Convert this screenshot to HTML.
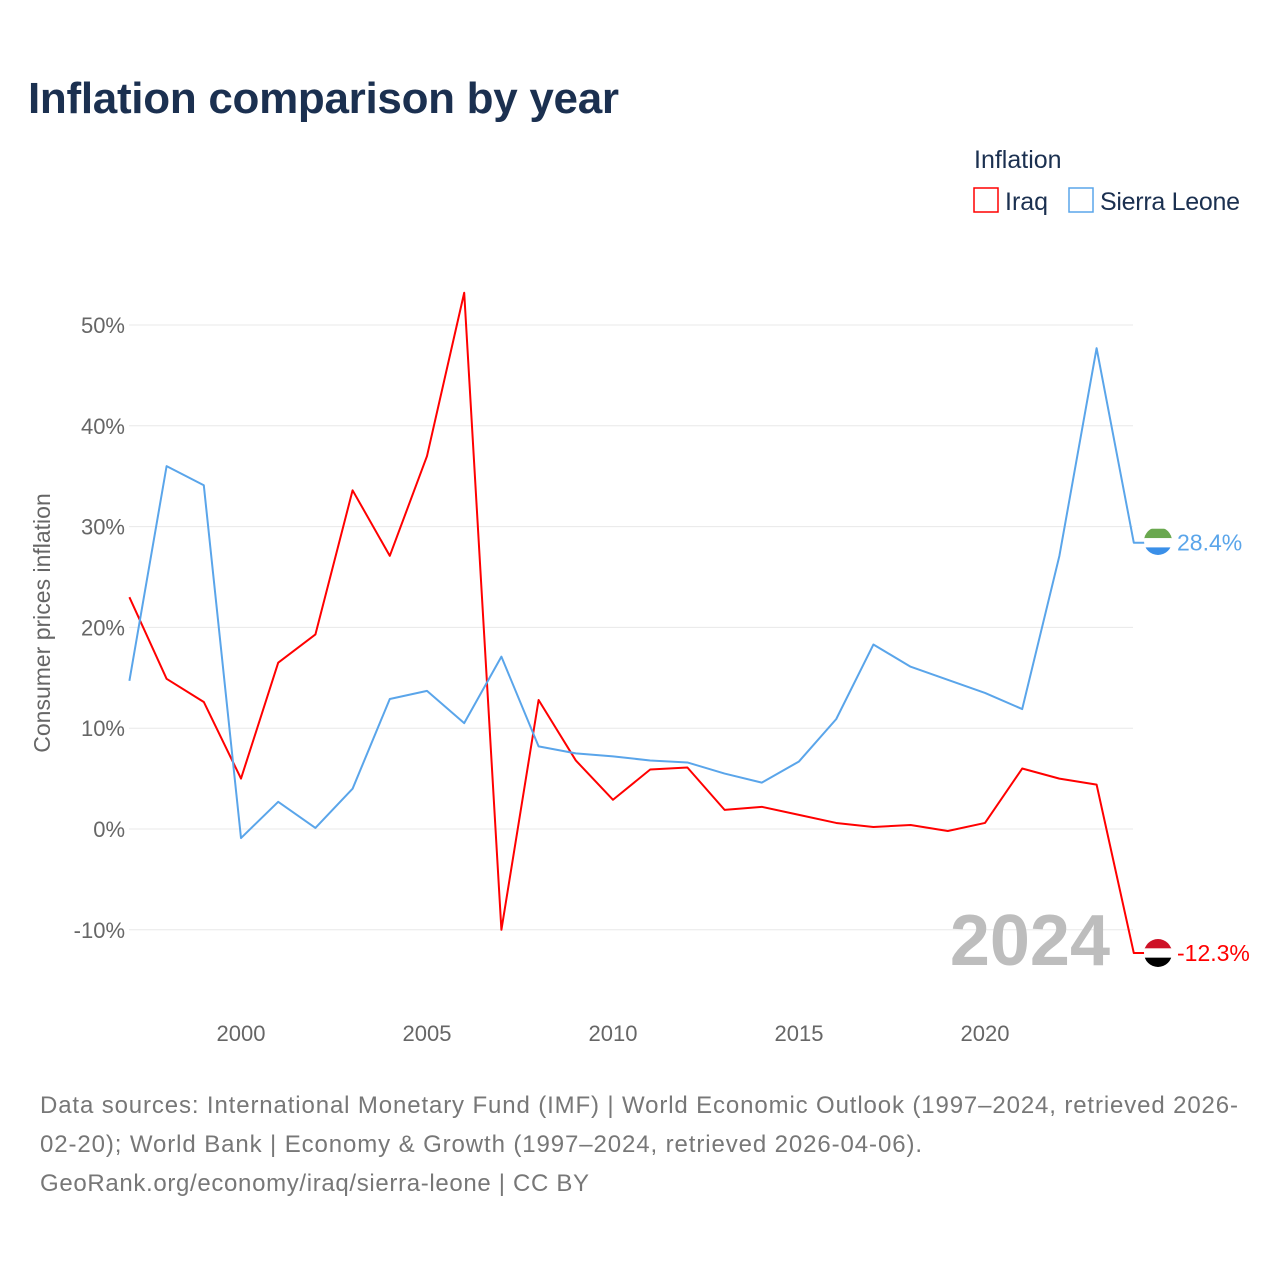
<!DOCTYPE html>
<html><head><meta charset="utf-8"><style>
body{margin:0;background:#fff;font-family:"Liberation Sans",sans-serif;}
#wrap{position:relative;width:1280px;height:1280px;overflow:hidden;}
</style></head><body>
<div id="wrap">
<svg id="chart" width="1280" height="1280">
<defs>
<clipPath id="cSL"><circle cx="1158" cy="541" r="14"/></clipPath>
<clipPath id="cIQ"><circle cx="1158" cy="953" r="14"/></clipPath>
</defs>
<text x="28" y="113" font-size="44" font-weight="bold" fill="#1b3050" textLength="591">Inflation comparison by year</text>
<text x="974" y="168" font-size="25" fill="#1b3050">Inflation</text>
<g><rect x="974" y="188" width="24" height="24" fill="none" stroke="#ff0000" stroke-width="1.5"/><text x="1005" y="210" font-size="25" fill="#1b3050">Iraq</text></g>
<g><rect x="1069" y="188" width="24" height="24" fill="none" stroke="#5aa5ea" stroke-width="1.5"/><text x="1100" y="210" font-size="25" fill="#1b3050" textLength="140">Sierra Leone</text></g>
<g id="grid"></g><g id="lines"></g>
<text x="1110" y="965" font-size="72" font-weight="bold" fill="#bdbdbd" text-anchor="end">2024</text>
<text transform="translate(50,623) rotate(-90)" font-size="23" fill="#666" text-anchor="middle">Consumer prices inflation</text>
<text x="40" y="1113" font-size="24" fill="#777" textLength="1198">Data sources: International Monetary Fund (IMF) | World Economic Outlook (1997–2024, retrieved 2026-</text>
<text x="40" y="1152" font-size="24" fill="#777" textLength="882">02-20); World Bank | Economy &amp; Growth (1997–2024, retrieved 2026-04-06).</text>
<text x="40" y="1191" font-size="24" fill="#777" textLength="549">GeoRank.org/economy/iraq/sierra-leone | CC BY</text>
</svg>
</div>
<script>
const years=[1997,1998,1999,2000,2001,2002,2003,2004,2005,2006,2007,2008,2009,2010,2011,2012,2013,2014,2015,2016,2017,2018,2019,2020,2021,2022,2023,2024];
const iraq=[23.0,14.9,12.6,5.0,16.5,19.3,33.6,27.1,37.0,53.2,-10.0,12.8,6.8,2.9,5.9,6.1,1.9,2.2,1.4,0.6,0.2,0.4,-0.2,0.6,6.0,5.0,4.4,-12.3];
const sierra=[14.7,36.0,34.1,-0.9,2.7,0.1,4.0,12.9,13.7,10.5,17.1,8.2,7.5,7.2,6.8,6.6,5.5,4.6,6.7,10.9,18.3,16.1,14.8,13.5,11.9,27.1,47.7,28.4];
const yTicks=[-10,0,10,20,30,40,50];
const xTicks=[2000,2005,2010,2015,2020];
const NS="http://www.w3.org/2000/svg";
const xs=y=>129.4+(y-1997)*37.2;
const ys=v=>829-v*10.08;
const grid=document.getElementById('grid'),lines=document.getElementById('lines');
function mk(t,a,p){const e=document.createElementNS(NS,t);for(const k in a)e.setAttribute(k,a[k]);p.appendChild(e);return e;}
yTicks.forEach(v=>{
 const l=mk('line',{x1:129,x2:1133,y1:ys(v),y2:ys(v),stroke:'#e8e8e8','stroke-width':1},grid);
 
 
 const t=mk('text',{x:125,y:ys(v)+8,'font-size':22,fill:'#666','text-anchor':'end'},grid);t.textContent=v+'%';
 
 
});
xTicks.forEach(y=>{
 const t=mk('text',{x:xs(y),y:1041,'font-size':22,fill:'#666','text-anchor':'middle'},grid);t.textContent=y;
 
 
});
function series(vals,color,name,lab,stripes,clip){
 let d=vals.map((v,i)=>(i?'L':'M')+xs(years[i])+','+ys(v)).join(' ');
 const last=vals[vals.length-1];
 const cy=ys(last);
 d+=' L1150,'+cy;
 const p=mk('path',{d:d,fill:'none',stroke:color,'stroke-width':2,'stroke-linejoin':'round'},lines);
 
 
 const g=mk('g',{'clip-path':'url(#'+clip+')'},lines);
 
 
 stripes.forEach((c,i)=>mk('rect',{x:1144,y:cy-14+i*28/3,width:28,height:28/3+0.5,fill:c},g));
 const t=mk('text',{x:1177,y:cy+8,'font-size':23,fill:color},lines);t.textContent=lab;
 
 
}
series(iraq,'#ff0000','iraq',iraq[iraq.length-1].toFixed(1)+'%',['#ce1126','#ffffff','#000000'],'cIQ');
series(sierra,'#5aa5ea','sierra-leone',sierra[sierra.length-1].toFixed(1)+'%',['#6aa84f','#ffffff','#3a8fe8'],'cSL');
</script>
</body></html>
